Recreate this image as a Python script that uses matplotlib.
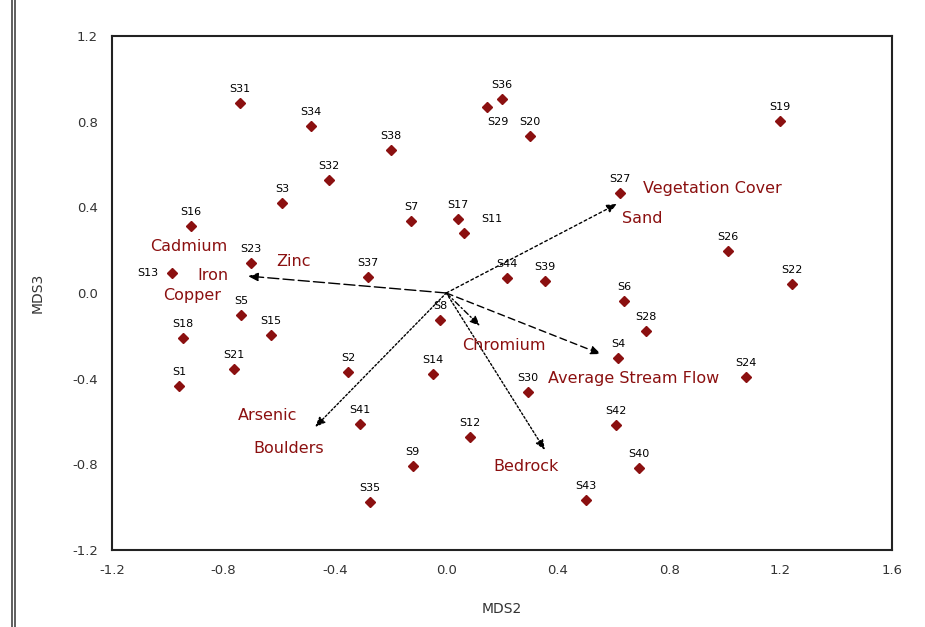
import matplotlib
matplotlib.use("Agg")
import matplotlib.pyplot as plt
from matplotlib.lines import Line2D

# ---- site scores ----
sites = ["S31", "S34", "S38", "S32", "S3", "S16", "S23", "S13", "S37", "S5",
         "S15", "S18", "S21", "S1", "S2", "S41", "S35", "S9", "S12", "S14",
         "S30", "S42", "S40", "S43", "S4", "S28", "S6", "S24", "S22", "S26",
         "S19", "S27", "S36", "S29", "S20", "S7", "S17", "S11", "S44", "S39", "S8"]
mds2 = [-0.741, -0.486, -0.199, -0.421, -0.590, -0.916, -0.701, -0.985, -0.281, -0.737,
        -0.629, -0.945, -0.762, -0.960, -0.353, -0.310, -0.274, -0.120, 0.085, -0.048,
        0.293, 0.609, 0.692, 0.501, 0.616, 0.717, 0.638, 1.076, 1.241, 1.011,
        1.198, 0.623, 0.200, 0.146, 0.300, -0.127, 0.042, 0.063, 0.218, 0.354, -0.023]
mds3 = [0.887, 0.780, 0.668, 0.528, 0.420, 0.313, 0.140, 0.093, 0.075, -0.103,
        -0.196, -0.210, -0.355, -0.434, -0.369, -0.612, -0.976, -0.808, -0.672, -0.378,
        -0.462, -0.616, -0.817, -0.966, -0.303, -0.177, -0.037, -0.392, 0.042, 0.196,
        0.803, 0.467, 0.906, 0.868, 0.733, 0.336, 0.345, 0.280, 0.070, 0.056, -0.126]

# ---- environmental vectors ----
vec_x = [0.613, -0.712, -0.471, 0.121, 0.555, 0.354]
vec_y = [0.416, 0.079, -0.626, -0.154, -0.285, -0.733]
vec_styles = [(0, (2, 2)), (0, (8, 3)), (0, (1.5, 1.5)), (0, (4, 2, 1, 2)), (0, (5, 3)), (0, (1.5, 1.5))]

# variable labels (text, x, y)
var_names = ["Vegetation Cover", "Sand", "Cadmium", "Iron", "Copper", "Zinc",
             "Arsenic", "Boulders", "Chromium", "Average Stream Flow", "Bedrock"]
var_x = [0.706, 0.631, -1.064, -0.895, -1.017, -0.611, -0.748, -0.694, 0.056, 0.365, 0.168]
var_y = [0.490, 0.350, 0.215, 0.084, -0.014, 0.145, -0.574, -0.724, -0.243, -0.397, -0.808]

xticks = [-1.2, -0.8, -0.4, 0.0, 0.4, 0.8, 1.2, 1.6]
yticks = [-1.2, -0.8, -0.4, 0.0, 0.4, 0.8, 1.2]

# label offsets in points (style)
label_off = {s: (0, 10) for s in sites}
label_off.update({"S13": (-17, 0), "S11": (20, 10), "S29": (8, -11)})

RED = "#8B1010"

fig = plt.figure(figsize=(9.25, 6.27), dpi=100)
ax = fig.add_axes([112 / 925, 1 - 550 / 627, 780 / 925, 514 / 627])

ax.plot(mds2, mds3, linestyle="none", marker="D", markersize=5,
        color=RED, markeredgecolor=RED)

for s, x, y in zip(sites, mds2, mds3):
    dx, dy = label_off[s]
    ax.annotate(s, (x, y), xytext=(dx, dy), textcoords="offset points",
                ha="center", va="center", fontsize=8, color="black",
                family="DejaVu Sans")

for x, y, ls in zip(vec_x, vec_y, vec_styles):
    ax.annotate("", xy=(x, y), xytext=(0, 0),
                arrowprops=dict(arrowstyle="-|>,head_length=0.6,head_width=0.25",
                                color="black", lw=1.0, linestyle=ls,
                                shrinkA=0, shrinkB=0))

for t, x, y in zip(var_names, var_x, var_y):
    ax.text(x, y, t, ha="left", va="center", fontsize=11.5, color=RED,
            family="DejaVu Sans")

ax.set_xlim(-1.2, 1.6)
ax.set_ylim(-1.2, 1.2)
ax.set_xticks(xticks)
ax.set_yticks(yticks)
ax.set_xticklabels([f"{v:.1f}" for v in xticks])
ax.set_yticklabels([f"{v:.1f}" for v in yticks])
ax.tick_params(length=0, labelsize=9.5, colors="#333333", pad=10)
for sp in ax.spines.values():
    sp.set_linewidth(1.5)
    sp.set_color("#222222")
ax.set_xlabel("MDS2", fontsize=10, color="#333333", labelpad=18)
ax.set_ylabel("MDS3", fontsize=10, color="#333333", labelpad=20)

fig.add_artist(Line2D([12 / 925, 12 / 925], [0, 1], color="#444444", lw=1.2))
fig.add_artist(Line2D([15.5 / 925, 15.5 / 925], [0, 1], color="#444444", lw=1.2))

fig.savefig("out.png", dpi=100)
